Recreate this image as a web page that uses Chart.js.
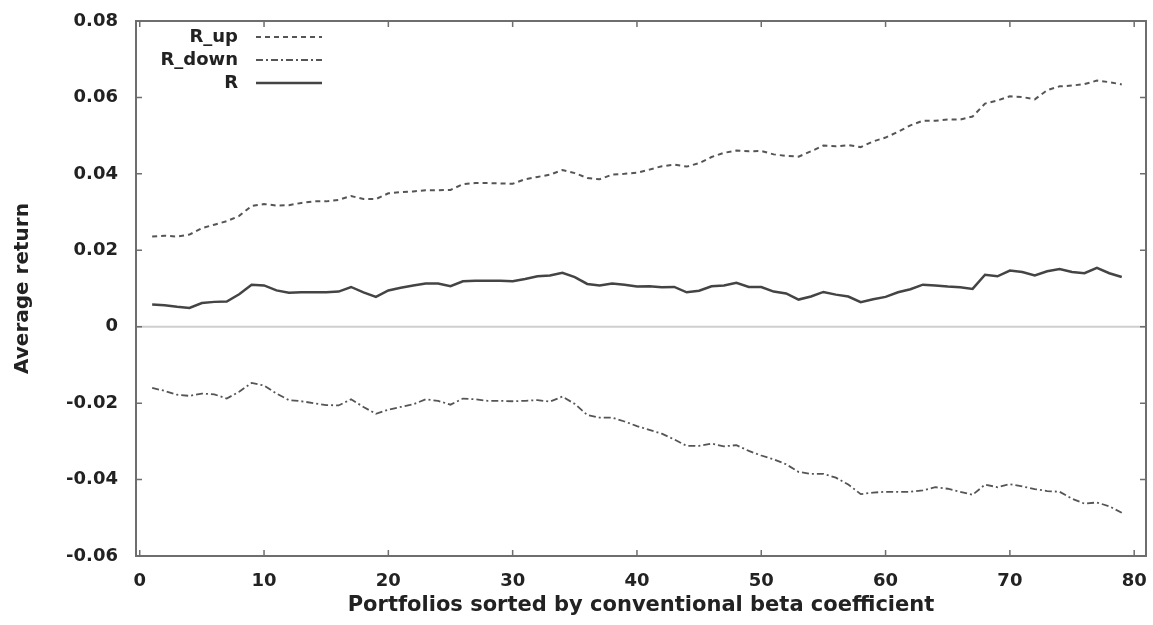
<!DOCTYPE html>
<html>
<head>
<meta charset="utf-8">
<script src="https://cdn.jsdelivr.net/npm/chart.js@4.4.1/dist/chart.umd.min.js"></script>
<style>
  html, body { margin: 0; padding: 0; background: #fff; }
  #wrap { position: relative; width: 1153px; height: 625px; }
</style>
</head>
<body>
<div id="wrap"><canvas id="chart"></canvas></div>
<script>
// portfolio index 1..79 (sorted by conventional beta)
const portfolios = Array.from({ length: 79 }, (_, i) => i + 1)

const rUp = [
  0.0236, 0.0238, 0.0236, 0.0241, 0.0258, 0.0267, 0.0276, 0.0290, 0.0316, 0.0321,
  0.0317, 0.0318, 0.0324, 0.0328, 0.0328, 0.0332, 0.0342, 0.0334, 0.0334, 0.0349,
  0.0352, 0.0354, 0.0357, 0.0357, 0.0358, 0.0373, 0.0376, 0.0376, 0.0375, 0.0374,
  0.0386, 0.0392, 0.0398, 0.0410, 0.0402, 0.0389, 0.0386, 0.0398, 0.0400, 0.0403,
  0.0411, 0.0420, 0.0424, 0.0419, 0.0428, 0.0444, 0.0455, 0.0461, 0.0459, 0.0460,
  0.0451, 0.0447, 0.0445, 0.0459, 0.0474, 0.0472, 0.0475, 0.0470, 0.0485, 0.0495,
  0.0510, 0.0527, 0.0539, 0.0539, 0.0542, 0.0542, 0.0550, 0.0584, 0.0592, 0.0603,
  0.0601, 0.0595, 0.0619, 0.0629, 0.0631, 0.0635, 0.0644, 0.0640, 0.0634
]

const rDown = [
  -0.0160, -0.0168, -0.0178, -0.0181, -0.0175, -0.0177, -0.0188, -0.0170, -0.0147, -0.0154,
  -0.0175, -0.0192, -0.0195, -0.0200, -0.0205, -0.0206, -0.0190, -0.0210, -0.0228, -0.0217,
  -0.0210, -0.0203, -0.0190, -0.0194, -0.0204, -0.0188, -0.0190, -0.0194, -0.0194, -0.0195,
  -0.0194, -0.0192, -0.0196, -0.0183, -0.0202, -0.0231, -0.0238, -0.0238, -0.0248, -0.0260,
  -0.0270, -0.0280, -0.0295, -0.0312, -0.0312, -0.0306, -0.0313, -0.0310, -0.0325, -0.0337,
  -0.0347, -0.0360, -0.0380, -0.0385, -0.0385, -0.0395, -0.0413, -0.0438, -0.0434, -0.0432,
  -0.0432, -0.0432, -0.0428, -0.0420, -0.0424, -0.0432, -0.0440, -0.0413, -0.0420, -0.0412,
  -0.0418, -0.0425, -0.0430, -0.0432, -0.0450, -0.0463, -0.0460, -0.0470, -0.0487
]

const rAll = [
  0.0058, 0.0056, 0.0052, 0.0049, 0.0062, 0.0065, 0.0066, 0.0085, 0.0110, 0.0108,
  0.0095, 0.0089, 0.0090, 0.0090, 0.0090, 0.0092, 0.0104, 0.0090, 0.0078, 0.0095,
  0.0102, 0.0108, 0.0113, 0.0113, 0.0106, 0.0119, 0.0120, 0.0120, 0.0120, 0.0119,
  0.0125, 0.0132, 0.0134, 0.0141, 0.0130, 0.0112, 0.0108, 0.0113, 0.0110, 0.0105,
  0.0106, 0.0103, 0.0104, 0.0090, 0.0094, 0.0106, 0.0108, 0.0115, 0.0104, 0.0104,
  0.0092, 0.0087, 0.0071, 0.0079, 0.0091, 0.0084, 0.0079, 0.0064, 0.0072, 0.0078,
  0.0090, 0.0098, 0.0110, 0.0108, 0.0105, 0.0103, 0.0099, 0.0136, 0.0132, 0.0147,
  0.0143, 0.0134, 0.0145, 0.0151, 0.0143, 0.0140, 0.0154, 0.0140, 0.0130
]

const seriesNames = ['R_up', 'R_down', 'R']
const xTicks = [0, 10, 20, 30, 40, 50, 60, 70, 80]
const yTicks = [-0.06, -0.04, -0.02, 0, 0.02, 0.04, 0.06, 0.08]

const FONT = 'DejaVu Sans'
const INK = '#222'
const FRAME = '#6e6e6e'

const toPoints = vals => vals.map((v, i) => ({ x: portfolios[i], y: v }))

// gnuplot-ish frame: full box, mirrored inward ticks, zero axis
const framePlugin = {
  id: 'frame',
  beforeDatasetsDraw (chart) {
    const { ctx, chartArea: { left, right }, scales: { y } } = chart
    ctx.save()
    const y0 = y.getPixelForValue(0)
    ctx.strokeStyle = '#cfcfcf'
    ctx.lineWidth = 2
    ctx.beginPath()
    ctx.moveTo(left, y0)
    ctx.lineTo(right, y0)
    ctx.stroke()
    ctx.restore()
  },
  afterDatasetsDraw (chart) {
    const { ctx, chartArea: { left, top, right, bottom }, scales: { x, y } } = chart
    ctx.save()
    ctx.strokeStyle = FRAME
    ctx.lineWidth = 2
    ctx.strokeRect(left, top, right - left, bottom - top)
    ctx.lineWidth = 1.5
    ctx.beginPath()
    xTicks.forEach(t => {
      const px = x.getPixelForValue(t)
      ctx.moveTo(px, bottom); ctx.lineTo(px, bottom - 6)
      ctx.moveTo(px, top); ctx.lineTo(px, top + 6)
    })
    yTicks.forEach(t => {
      const py = y.getPixelForValue(t)
      ctx.moveTo(left, py); ctx.lineTo(left + 6, py)
      ctx.moveTo(right, py); ctx.lineTo(right - 6, py)
    })
    ctx.stroke()

    // key, top-left: right aligned label then line sample
    ctx.font = 'bold 18px "' + FONT + '"'
    ctx.fillStyle = INK
    ctx.textAlign = 'right'
    ctx.textBaseline = 'middle'
    chart.data.datasets.forEach((ds, i) => {
      const ly = 37 + i * 23
      ctx.fillText(ds.label, 238, ly)
      ctx.strokeStyle = ds.borderColor
      ctx.lineWidth = ds.borderWidth
      ctx.setLineDash(ds.borderDash || [])
      ctx.beginPath()
      ctx.moveTo(256, ly)
      ctx.lineTo(322, ly)
      ctx.stroke()
    })
    ctx.restore()
  }
}

new Chart(document.getElementById('chart'), {
  type: 'line',
  data: {
    datasets: [
      { label: seriesNames[0], data: toPoints(rUp), borderColor: '#555', borderWidth: 2, borderDash: [5, 4] },
      { label: seriesNames[1], data: toPoints(rDown), borderColor: '#555', borderWidth: 1.8, borderDash: [7, 3, 2, 3] },
      { label: seriesNames[2], data: toPoints(rAll), borderColor: '#444', borderWidth: 2.5 }
    ]
  },
  options: {
    responsive: true,
    maintainAspectRatio: false,
    animation: false,
    parsing: false,
    elements: { point: { radius: 0 }, line: { tension: 0 } },
    layout: { padding: { top: 21, right: 7, left: 0, bottom: 0 } },
    scales: {
      x: {
        type: 'linear',
        min: -0.3,
        max: 80.95,
        afterFit: s => { s.height = 69; s.paddingLeft = 0; s.paddingRight = 0 },
        grid: { display: false, drawTicks: false },
        border: { display: false },
        afterBuildTicks: s => { s.ticks = xTicks.map(v => ({ value: v })) },
        ticks: { padding: 15, color: INK, font: { family: FONT, size: 18, weight: 'bold' }, maxRotation: 0 },
        title: {
          display: true,
          text: 'Portfolios sorted by conventional beta coefficient',
          color: INK,
          font: { family: FONT, size: 21, weight: 'bold' },
          padding: { top: 0, bottom: 7 }
        }
      },
      y: {
        min: -0.06,
        max: 0.08,
        afterFit: s => { s.width = 136; s.paddingTop = 0; s.paddingBottom = 0 },
        grid: { display: false, drawTicks: false },
        border: { display: false },
        afterBuildTicks: s => { s.ticks = yTicks.map(v => ({ value: v })) },
        ticks: {
          padding: 18,
          color: INK,
          font: { family: FONT, size: 18, weight: 'bold' },
          callback: v => Math.abs(v) < 1e-9 ? '0' : v.toFixed(2)
        },
        title: {
          display: true,
          text: 'Average return',
          color: INK,
          font: { family: FONT, size: 20, weight: 'bold' },
          padding: { top: 11, bottom: 0 }
        }
      }
    },
    plugins: {
      legend: { display: false },
      tooltip: { enabled: false }
    }
  },
  plugins: [framePlugin]
})
</script>
</body>
</html>
